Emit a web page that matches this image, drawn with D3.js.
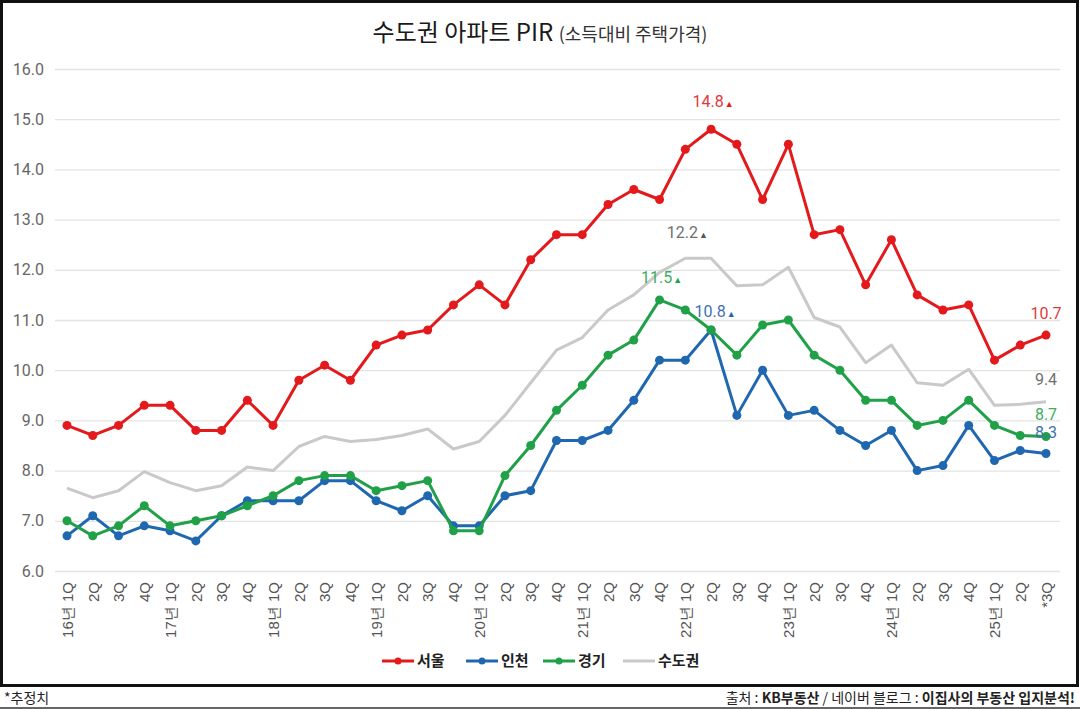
<!DOCTYPE html>
<html><head><meta charset="utf-8">
<script src="https://cdn.jsdelivr.net/npm/d3@7"></script>
<style>
html,body{margin:0;padding:0;background:#fff;}
svg{display:block;font-family:"Noto Sans CJK KR","Noto Sans",sans-serif;}
</style></head>
<body>
<svg id="chart" width="1080" height="709"></svg>
<script>
const categories = ["16년 1Q","2Q","3Q","4Q","17년 1Q","2Q","3Q","4Q","18년 1Q","2Q","3Q","4Q","19년 1Q","2Q","3Q","4Q","20년 1Q","2Q","3Q","4Q","21년 1Q","2Q","3Q","4Q","22년 1Q","2Q","3Q","4Q","23년 1Q","2Q","3Q","4Q","24년 1Q","2Q","3Q","4Q","25년 1Q","2Q","*3Q"];
const seoul = [8.9,8.7,8.9,9.3,9.3,8.8,8.8,9.4,8.9,9.8,10.1,9.8,10.5,10.7,10.8,11.3,11.7,11.3,12.2,12.7,12.7,13.3,13.6,13.4,14.4,14.8,14.5,13.4,14.5,12.7,12.8,11.7,12.6,11.5,11.2,11.3,10.2,10.5,10.7];
const incheon = [6.7,7.1,6.7,6.9,6.8,6.6,7.1,7.4,7.4,7.4,7.8,7.8,7.4,7.2,7.5,6.9,6.9,7.5,7.6,8.6,8.6,8.8,9.4,10.2,10.2,10.8,9.1,10.0,9.1,9.2,8.8,8.5,8.8,8.0,8.1,8.9,8.2,8.4,8.34];
const gyeonggi = [7.0,6.7,6.9,7.3,6.9,7.0,7.1,7.3,7.5,7.8,7.9,7.9,7.6,7.7,7.8,6.8,6.8,7.9,8.5,9.2,9.7,10.3,10.6,11.4,11.2,10.8,10.3,10.9,11.0,10.3,10.0,9.4,9.4,8.9,9.0,9.4,8.9,8.7,8.68];
const sudogwon = [7.65,7.46,7.6,7.98,7.76,7.6,7.7,8.07,8.0,8.48,8.68,8.58,8.62,8.7,8.83,8.43,8.58,9.1,9.75,10.4,10.65,11.2,11.5,11.95,12.23,12.23,11.68,11.7,12.05,11.05,10.86,10.15,10.5,9.75,9.7,10.02,9.3,9.32,9.37];
const yTicks = [6,7,8,9,10,11,12,13,14,15,16];
const seriesNames = ["서울","인천","경기","수도권"];
const peakLabels = ["14.8","10.8","11.5","12.2"];
const endLabels = ["10.7","8.3","8.7","9.4"];

const series = [
  {name:seriesNames[0], values:seoul, color:"#e3191c", label:"#e0393b", width:3, marker:true, peak:peakLabels[0], end:endLabels[0]},
  {name:seriesNames[1], values:incheon, color:"#1f68b0", label:"#3d73b3", width:3, marker:true, peak:peakLabels[1], end:endLabels[1]},
  {name:seriesNames[2], values:gyeonggi, color:"#20a148", label:"#3aae5e", width:3, marker:true, peak:peakLabels[2], end:endLabels[2]},
  {name:seriesNames[3], values:sudogwon, color:"#c9c9c9", label:"#707070", width:3, marker:false, peak:peakLabels[3], end:endLabels[3]}
];

const svg = d3.select("#chart");
svg.append("rect").attr("x",1.5).attr("y",1.5).attr("width",1076).attr("height",684)
  .attr("fill","#fff").attr("stroke","#111").attr("stroke-width",3);
svg.append("line").attr("x1",0).attr("x2",1080).attr("y1",708).attr("y2",708).attr("stroke","#333").attr("stroke-width",1.5);

const idx = d3.range(categories.length);
const x = d3.scalePoint().domain(idx).range([67,1046]);
const y = d3.scaleLinear().domain([6,16]).range([571,69]);

// title
const title = svg.append("text").attr("x",540).attr("y",41).attr("text-anchor","middle").attr("fill","#1a1a1a");
title.append("tspan").attr("font-size",24).attr("font-weight",400).text("수도권 아파트 PIR ");
title.append("tspan").attr("font-size",18).attr("fill","#333").text("(소득대비 주택가격)");

// grid
const yAxis = d3.axisLeft(y).tickValues(yTicks).tickFormat(d3.format(".1f")).tickSize(-(1060-55)).tickPadding(11);
const gy = svg.append("g").attr("transform","translate(55,0)").call(yAxis);
gy.select(".domain").remove();
gy.selectAll(".tick line").attr("stroke","#e3e3e3").attr("stroke-width",1.3);
gy.selectAll(".tick text").attr("fill","#666").attr("font-size",16).attr("font-family","Roboto, 'Noto Sans', sans-serif");

// x axis
const xAxis = d3.axisBottom(x).tickFormat(i=>categories[i]).tickSize(0).tickPadding(0);
const gx = svg.append("g").attr("transform","translate(0,571)").call(xAxis);
gx.select(".domain").remove();
gx.selectAll(".tick text")
  .attr("transform","rotate(-90)")
  .attr("x",-11).attr("y",0).attr("dy","0.35em")
  .attr("text-anchor","end")
  .attr("fill","#555").attr("font-size",15);

// lines
const line = d3.line().x((d,i)=>x(i)).y(d=>y(d));
const drawOrder = [series[3], series[1], series[2], series[0]];
drawOrder.forEach(s=>{
  svg.append("path").datum(s.values).attr("d",line).attr("fill","none")
    .attr("stroke",s.color).attr("stroke-width",s.width).attr("stroke-linejoin","round");
  if(s.marker){
    svg.append("g").selectAll("circle").data(s.values).join("circle")
      .attr("cx",(d,i)=>x(i)).attr("cy",d=>y(d)).attr("r",4.5).attr("fill",s.color);
  }
});

// peak labels
const peakOffsets = {"서울":[2,-22],"인천":[4,-13],"경기":[2,-17],"수도권":[2,-20]};
series.forEach(s=>{
  const mi = d3.maxIndex(s.values);
  const off = peakOffsets[s.name];
  const t = svg.append("text").attr("x",x(mi)+off[0]).attr("y",y(s.values[mi])+off[1])
    .attr("text-anchor","middle").attr("fill",s.label).attr("font-size",16).attr("font-family","Roboto, 'Noto Sans', sans-serif");
  t.append("tspan").text(s.peak);
  t.append("tspan").attr("font-size",9).attr("dx",1).attr("fill",s.color==="#c9c9c9"?"#555":s.color).text("▲");
});

// end labels
const endOffsets = {"서울":-16,"인천":-16,"경기":-16,"수도권":-17};
series.forEach(s=>{
  const li = s.values.length-1;
  svg.append("text").attr("x",x(li)).attr("y",y(s.values[li])+endOffsets[s.name])
    .attr("text-anchor","middle").attr("fill",s.label).attr("font-size",16)
    .attr("font-family","Roboto, 'Noto Sans', sans-serif").text(s.end);
});

// legend
const legendX = [382,466,543,623];
series.forEach((s,i)=>{
  const g = svg.append("g").attr("transform",`translate(${legendX[i]},661)`);
  g.append("line").attr("x1",0).attr("x2",32).attr("stroke",s.color).attr("stroke-width",3);
  if(s.marker) g.append("circle").attr("cx",16).attr("r",3.5).attr("fill",s.color);
  g.append("text").attr("x",35).attr("dy","0.36em").attr("font-size",15).attr("font-weight",700)
    .attr("fill","#222").text(s.name);
});

// footer
svg.append("text").attr("x",4).attr("y",703).attr("font-size",14).attr("fill","#222").text("*추정치");
const src = svg.append("text").attr("x",1075).attr("y",703).attr("text-anchor","end").attr("font-size",14).attr("fill","#222");
src.append("tspan").text("출처 : ");
src.append("tspan").attr("font-weight",700).text("KB부동산");
src.append("tspan").text(" / 네이버 블로그 : ");
src.append("tspan").attr("font-weight",700).text("이집사의 부동산 입지분석!");
</script>
</body></html>
